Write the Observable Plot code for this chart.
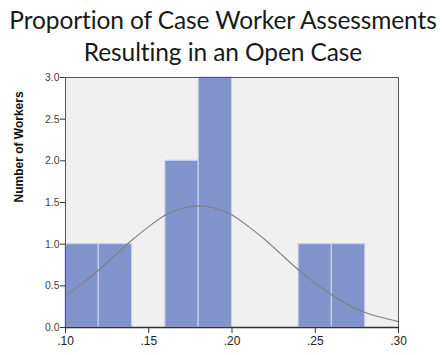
<!DOCTYPE html>
<html><head><meta charset="utf-8">
<script src="https://cdn.jsdelivr.net/npm/d3@7"></script>
<script src="https://cdn.jsdelivr.net/npm/@observablehq/plot@0.6"></script>
<style>
body{margin:0;background:#fff;width:442px;height:355px;overflow:hidden}
#title{height:70px;font-family:Lato,"Open Sans",sans-serif;font-size:24.5px;color:#1a1a1a;text-align:center;line-height:32px;padding-top:4px;box-sizing:border-box;padding-left:4px;white-space:nowrap;letter-spacing:-0.1px}
</style></head><body>
<div id="title">Proportion of Case Worker Assessments<br>Resulting in an Open Case</div>
<div id="chart"></div>
<script>
const binStart = [0.10, 0.12, 0.16, 0.18, 0.24, 0.26];
const binEnd   = [0.12, 0.14, 0.18, 0.20, 0.26, 0.28];
const counts   = [1, 1, 2, 3, 1, 1];
const curveX = [0.10,0.11,0.12,0.13,0.14,0.15,0.16,0.17,0.18,0.19,0.20,0.21,0.22,0.23,0.24,0.25,0.26,0.27,0.28,0.29,0.30];
const curveY = [0.38,0.53,0.69,0.87,1.05,1.21,1.35,1.43,1.46,1.43,1.35,1.21,1.05,0.87,0.69,0.53,0.39,0.27,0.18,0.12,0.07];
const xTicks = [0.10,0.15,0.20,0.25,0.30];
const yTicks = [0,0.5,1,1.5,2,2.5,3];

const bars = counts.map((c,i)=>({x1:binStart[i],x2:binEnd[i],y:c}));
const curve = curveX.map((x,i)=>({x,y:curveY[i]}));
const fmtX = d=>d3.format(".2f")(d).replace(/^0/,"");

const chart = Plot.plot({
  width:442, height:285,
  marginTop:7, marginBottom:28, marginLeft:65, marginRight:44,
  style:{fontFamily:"Arial, 'Liberation Sans', sans-serif", fontSize:"11px", color:"#444"},
  x:{domain:[0.10,0.30], label:null},
  y:{domain:[0,3], label:null},
  marks:[
    Plot.frame({fill:"#f0f0f0", stroke:"none"}),
    Plot.rectY(bars,{x1:"x1",x2:"x2",y:"y",fill:"#8094cb",stroke:"#c9d0ec",strokeWidth:1.2}),
    Plot.line(curve,{x:"x",y:"y",stroke:"#7f7f7f",strokeWidth:1.1,curve:"natural"}),
    Plot.frame({stroke:"#555",strokeWidth:1}),
    Plot.axisX({ticks:xTicks,tickFormat:fmtX,tickSize:6,stroke:"#333",fill:"#222",fontSize:12,tickPadding:3,label:null}),
    Plot.axisY({ticks:yTicks,tickFormat:d3.format(".1f"),tickSize:5,stroke:"#333",fill:"#444",fontSize:10.5,tickPadding:1,label:null}),
    Plot.ruleY([0],{stroke:"#333",strokeWidth:1.3}),
    Plot.text(["Number of Workers"],{frameAnchor:"left",dx:-46,rotate:-90,fontWeight:"bold",fontSize:12,fill:"#111"})
  ]
});
document.getElementById("chart").appendChild(chart);
</script>
</body></html>
